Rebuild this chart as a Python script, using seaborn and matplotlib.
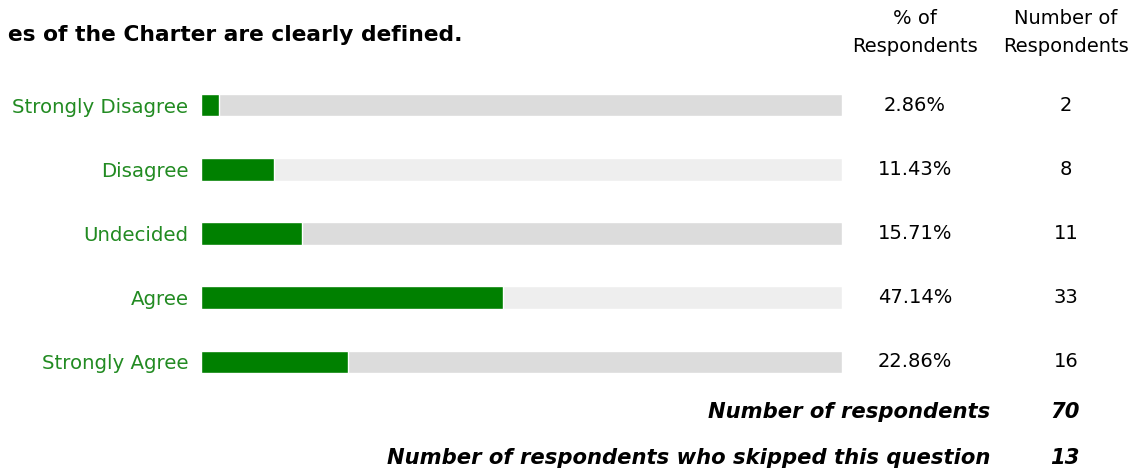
import numpy as np
import matplotlib.pyplot as plt
import pandas as pd
import seaborn as sns

answers = ["Strongly Disagree", "Disagree", "Undecided", "Agree", "Strongly Agree"]
percents = [2.86, 11.43, 15.71, 47.14, 22.86]
counts = [2, 8, 11, 33, 16]
total_answered = 70
total_skipped = 13
title = "es of the Charter are clearly defined."

sns.set_style("white")
plt.rcParams['font.family'] = ['DejaVu Sans']
plt.rcParams['text.color'] = 'black'

data = pd.DataFrame({"answer": answers, "percent": percents, "full": [100] * len(answers)})

fig = plt.figure(figsize=(11.48, 4.73), dpi=100)
ax = fig.add_axes([201 / 1148, 79 / 473, 641 / 1148, 321 / 473])

# grey track behind each bar, alternating shade
track = ["#dcdcdc", "#eeeeee", "#dcdcdc", "#eeeeee", "#dcdcdc"]
sns.barplot(data=data, x="full", y="answer", hue="answer", palette=track,
            width=0.35, legend=False, ax=ax, saturation=1)
sns.barplot(data=data, x="percent", y="answer", color="#008000",
            width=0.35, ax=ax, saturation=1)

ax.set_xlim(0, 100)
ax.set_ylim(len(answers) - 0.5, -0.5)
ax.set_xlabel("")
ax.set_ylabel("")
ax.set_xticks([])
for s in ax.spines.values():
    s.set_visible(False)
ax.tick_params(axis="y", length=0, pad=9, labelsize=14.2, labelcolor="#228b22")

# value columns beside each bar
for i, (p, c) in enumerate(zip(percents, counts)):
    y = ax.transData.transform((0, i))[1]
    yf = fig.transFigure.inverted().transform((0, y))[1]
    fig.text(915 / 1148, yf, f"{p:.2f}%", ha="center", va="center", fontsize=14)
    fig.text(1066 / 1148, yf, str(c), ha="center", va="center", fontsize=14)

fig.text(915 / 1148, 1 - 19 / 473, "% of", ha="center", va="center", fontsize=14)
fig.text(915 / 1148, 1 - 47 / 473, "Respondents", ha="center", va="center", fontsize=14)
fig.text(1066 / 1148, 1 - 19 / 473, "Number of", ha="center", va="center", fontsize=14)
fig.text(1066 / 1148, 1 - 47 / 473, "Respondents", ha="center", va="center", fontsize=14)

fig.text(463 / 1148, 1 - 35 / 473, title, ha="right", va="center",
         fontsize=15.7, fontweight="bold")

foot = dict(va="center", fontsize=15.2, fontweight="bold", style="italic")
fig.text(990 / 1148, 1 - 412 / 473, "Number of respondents", ha="right", **foot)
fig.text(1080 / 1148, 1 - 412 / 473, str(total_answered), ha="right", **foot)
fig.text(990 / 1148, 1 - 458 / 473, "Number of respondents who skipped this question",
         ha="right", **foot)
fig.text(1080 / 1148, 1 - 458 / 473, str(total_skipped), ha="right", **foot)

fig.savefig("out.png", dpi=100)
